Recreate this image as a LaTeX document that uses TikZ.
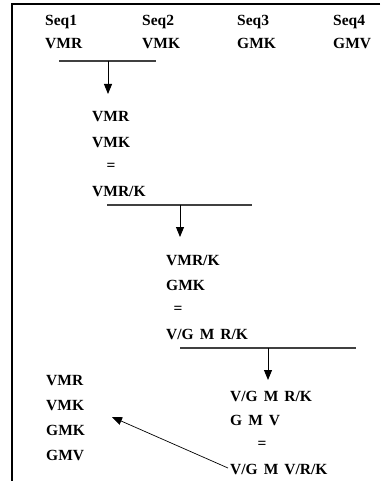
\documentclass[tikz,border=0pt]{standalone}
\usepackage{fontspec}
\setmainfont{Liberation Serif}
\usetikzlibrary{arrows.meta}
\newcommand{\wsp}{\spaceskip=6pt plus 0pt minus 0pt\relax}
\tikzset{
  lbl/.style={inner sep=0pt, anchor=base west, font=\fontsize{15.5}{18}\selectfont\bfseries, execute at begin node=\wsp},
  eq/.style={inner sep=0pt, anchor=center, font=\fontsize{15.5}{18}\selectfont\bfseries},
  bar/.style={line width=1.3pt, draw=black!75},
  down/.style={line width=0.9pt, -{Triangle[width=8pt,length=10pt]}},
  frame/.style={line width=1.3pt}
}
\begin{document}
\begin{tikzpicture}[x=1pt,y=-1pt]
\useasboundingbox (0,0) rectangle (383,481);
% frame
\coordinate (ftr) at (380,4);
\coordinate (ftl) at (12,4);
\coordinate (fbl) at (12,481);
\draw[frame] (ftr) -- (ftl) -- (fbl);
% header
\node[lbl] (s1) at (45,26) {Seq1};
\node[lbl] (s2) at (142,26) {Seq2};
\node[lbl] (s3) at (237,26) {Seq3};
\node[lbl] (s4) at (333,26) {Seq4};
\node[lbl] (q1) at (45,49) {VMR};
\node[lbl] (q2) at (142,49) {VMK};
\node[lbl] (q3) at (237,49) {GMK};
\node[lbl] (q4) at (333,49) {GMV};
% step 1
\coordinate (b1l) at (59,61);
\coordinate (b1r) at (156,61);
\coordinate (b1m) at (108,61);
\coordinate (b1t) at (108,94);
\draw[bar] (b1l) -- (b1r);
\draw[down] (b1m) -- (b1t);
\node[lbl] (a1) at (92,122) {VMR};
\node[lbl] (a2) at (92,147) {VMK};
\node[eq] (a3) at (111,167) {=};
\node[lbl] (a4) at (92,196) {VMR/K};
% step 2
\coordinate (b2l) at (107,205);
\coordinate (b2r) at (252,205);
\coordinate (b2m) at (180,205);
\coordinate (b2t) at (180,237);
\draw[bar] (b2l) -- (b2r);
\draw[down] (b2m) -- (b2t);
\node[lbl] (c1) at (166,265) {VMR/K};
\node[lbl] (c2) at (166,290) {GMK};
\node[eq] (c3) at (178,310) {=};
\node[lbl] (c4) at (166,339) {V/G M R/K};
% step 3
\coordinate (b3l) at (180,348);
\coordinate (b3r) at (356,348);
\coordinate (b3m) at (268,348);
\coordinate (b3t) at (268,380);
\draw[bar] (b3l) -- (b3r);
\draw[down] (b3m) -- (b3t);
\node[lbl] (d1) at (230,401) {V/G M R/K};
\node[lbl] (d2) at (230,425) {G M V};
\node[eq] (d3) at (262,445) {=};
\node[lbl] (d4) at (230,474) {V/G M V/R/K};
% final list
\node[lbl] (e1) at (46,385) {VMR};
\node[lbl] (e2) at (46,410) {VMK};
\node[lbl] (e3) at (46,435) {GMK};
\node[lbl] (e4) at (46,460) {GMV};
% back arrow
\coordinate (ds) at (228,468);
\coordinate (de) at (112,417);
\draw[down, line width=0.7pt] (ds) -- (de);
\end{tikzpicture}
\end{document}
